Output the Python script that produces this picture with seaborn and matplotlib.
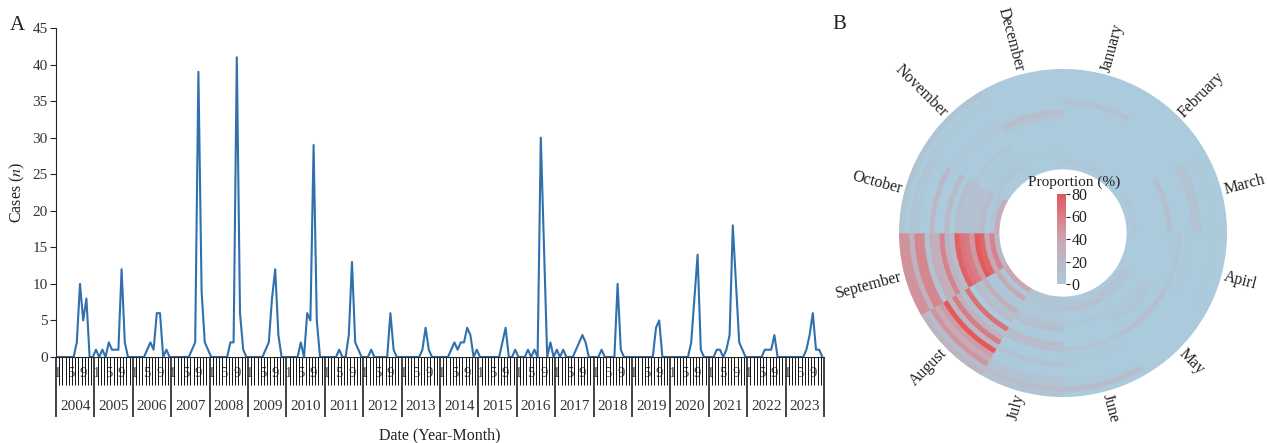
import numpy as np
import pandas as pd
import matplotlib
matplotlib.use('Agg')
import matplotlib.pyplot as plt
import seaborn as sns
from matplotlib.colors import LinearSegmentedColormap, Normalize
from matplotlib.cm import ScalarMappable
import matplotlib.transforms as mtransforms

# monthly cases, Jan..Dec
cases_2004 = [0, 0, 0, 0, 0, 0, 2, 10, 5, 8, 0, 0]
cases_2005 = [1, 0, 1, 0, 2, 1, 1, 1, 12, 2, 0, 0]
cases_2006 = [0, 0, 0, 0, 1, 2, 1, 6, 6, 0, 1, 0]
cases_2007 = [0, 0, 0, 0, 0, 0, 1, 2, 39, 9, 2, 1]
cases_2008 = [0, 0, 0, 0, 0, 0, 2, 2, 41, 6, 1, 0]
cases_2009 = [0, 0, 0, 0, 0, 1, 2, 8, 12, 3, 0, 0]
cases_2010 = [0, 0, 0, 0, 2, 0, 6, 5, 29, 5, 0, 0]
cases_2011 = [0, 0, 0, 0, 1, 0, 0, 3, 13, 2, 1, 0]
cases_2012 = [0, 0, 1, 0, 0, 0, 0, 0, 6, 1, 0, 0]
cases_2013 = [0, 0, 0, 0, 0, 0, 1, 4, 1, 0, 0, 0]
cases_2014 = [0, 0, 0, 1, 2, 1, 2, 2, 4, 3, 0, 1]
cases_2015 = [0, 0, 0, 0, 0, 0, 0, 2, 4, 0, 0, 1]
cases_2016 = [0, 0, 0, 1, 0, 1, 0, 30, 15, 0, 2, 0]
cases_2017 = [1, 0, 1, 0, 0, 0, 1, 2, 3, 2, 0, 0]
cases_2018 = [0, 0, 1, 0, 0, 0, 0, 10, 1, 0, 0, 0]
cases_2019 = [0, 0, 0, 0, 0, 0, 0, 4, 5, 0, 0, 0]
cases_2020 = [0, 0, 0, 0, 0, 0, 2, 8, 14, 1, 0, 0]
cases_2021 = [0, 0, 1, 1, 0, 1, 3, 18, 10, 2, 1, 0]
cases_2022 = [0, 0, 0, 0, 0, 1, 1, 1, 3, 0, 0, 0]
cases_2023 = [0, 0, 0, 0, 0, 0, 1, 3, 6, 1, 1, 0]

years = list(range(2004, 2024))
month_names = ['January', 'February', 'March', 'Apirl', 'May', 'June', 'July',
               'August', 'September', 'October', 'November', 'December']
month_marks = [1, 5, 9]
cbar_ticks = [0, 20, 40, 60, 80]

all_cases = [cases_2004, cases_2005, cases_2006, cases_2007, cases_2008,
             cases_2009, cases_2010, cases_2011, cases_2012, cases_2013,
             cases_2014, cases_2015, cases_2016, cases_2017, cases_2018,
             cases_2019, cases_2020, cases_2021, cases_2022, cases_2023]
monthly = np.array(all_cases, dtype=float)
# share of each month within its year (%)
prop = monthly / monthly.sum(axis=1, keepdims=True) * 100

df = pd.DataFrame({'pos': np.arange(monthly.size) + 0.5, 'cases': monthly.ravel()})

sns.set_style('ticks')
plt.rcParams['font.family'] = ['Liberation Serif', 'DejaVu Serif']
plt.rcParams['mathtext.fontset'] = 'stix'
txt = '#222222'

W, H = 1268, 443
fig = plt.figure(figsize=(W / 100, H / 100), dpi=100)

# ---- panel A: line chart
ax = fig.add_axes([56 / W, (H - 357) / H, 768 / W, 329 / H])
sns.lineplot(data=df, x='pos', y='cases', color='#3070ad', linewidth=1.5, ax=ax)
ax.set_xlim(0, 240)
ax.set_ylim(0, 45)
ax.set_yticks(range(0, 46, 5))
ax.tick_params(axis='y', length=4, width=0.8, labelsize=11, labelcolor='#333333', pad=2)
ax.set_xticks(np.arange(0, 241, 12))
ax.set_xticks(np.arange(0, 241), minor=True)
ax.tick_params(axis='x', which='major', length=43, width=1.2, color='#222222', labelbottom=False)
ax.tick_params(axis='x', which='minor', length=20, width=0.7, color='#111111')
ax.set_xlabel('')
ax.set_ylabel('')
sns.despine(ax=ax)

trans = mtransforms.blended_transform_factory(ax.transData, ax.transAxes)
for k, yr in enumerate(years):
    ax.text(k * 12 + 6, -0.149, str(yr), transform=trans, ha='center', va='center',
            fontsize=11, color='#333333')
    for m in month_marks:
        ax.text(k * 12 + m - 0.5, -0.049, str(m), transform=trans, ha='center', va='center',
                fontsize=10.5, color='#444444', zorder=0)

fig.text(17 / W, 1 - 192 / H, 'Cases ($n$)', rotation=90, ha='center', va='center',
         fontsize=11.5, color=txt)
fig.text(440 / W, 1 - 435 / H, 'Date (Year-Month)', ha='center', va='center',
         fontsize=11.5, color=txt)
fig.text(10 / W, 1 - 30 / H, 'A', fontsize=15, color=txt)
fig.text(832 / W, 1 - 29 / H, 'B', fontsize=15, color=txt)

# ---- panel B: polar heatmap
R0 = 12.8
pax = fig.add_axes([(1063 - 164) / W, (H - 233 - 164) / H, 328 / W, 328 / H], projection='polar')
pax.set_theta_zero_location('N')
pax.set_theta_direction(-1)
cmap = LinearSegmentedColormap.from_list('bluered', ['#abcadb', '#c9a6b1', '#e4575a'])
norm = Normalize(vmin=0, vmax=80)
theta = np.deg2rad(np.arange(12) * 30 + 15)
for j in range(len(years)):
    cols = cmap(norm(prop[j]))
    pax.bar(theta, 1, width=np.deg2rad(30), bottom=R0 + j,
            color=cols, edgecolor=cols, linewidth=0.5, align='center')
pax.set_ylim(0, R0 + len(years))
pax.grid(False)
pax.set_xticks([])
pax.set_yticks([])
pax.spines['polar'].set_visible(False)
pax.patch.set_alpha(0)

for k, name in enumerate(month_names):
    deg = 15 + 30 * k
    rot = 90 - deg
    if rot < -90:
        rot += 180
    ha = 'left' if deg < 180 else 'right'
    pax.text(np.deg2rad(deg), R0 + len(years) + 0.6, name, rotation=rot,
             rotation_mode='anchor', ha=ha, va='center', fontsize=11.5, color=txt)

cax = fig.add_axes([1057 / W, (H - 284) / H, 9 / W, 90 / H])
cb = fig.colorbar(ScalarMappable(norm=norm, cmap=cmap), cax=cax, ticks=cbar_ticks)
cb.outline.set_visible(False)
cax.tick_params(labelsize=11.5, length=3, width=0.8, pad=1, labelcolor=txt)
fig.text(1074 / W, 1 - 182 / H, 'Proportion (%)', ha='center', va='center',
         fontsize=11, color=txt)

fig.savefig('out.png', dpi=100)
